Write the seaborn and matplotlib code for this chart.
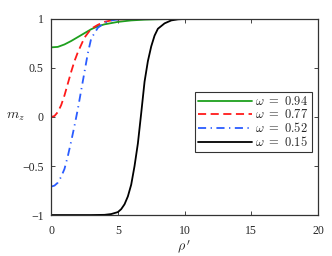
import numpy as np
import pandas as pd
import matplotlib
matplotlib.use("Agg")
import matplotlib.pyplot as plt
import seaborn as sns

# ------------------------------------------
# Data
# ------------------------------------------
labels = ["0.94", "0.77", "0.52", "0.15"]

x_green = [0, 0.5, 1, 1.5, 2, 2.5, 3, 3.5, 4, 5, 6, 7, 8, 9, 10, 20]
y_green = [0.71, 0.715, 0.74, 0.775, 0.815, 0.855, 0.895, 0.925, 0.945,
           0.97, 0.985, 0.993, 0.997, 0.999, 1.0, 1.0]

x_red = [0, 0.25, 0.5, 0.75, 1, 1.25, 1.5, 1.75, 2, 2.5, 3, 3.5, 4, 4.5, 5, 6, 20]
y_red = [0.0, 0.01, 0.05, 0.12, 0.22, 0.34, 0.46, 0.57, 0.66, 0.81, 0.9,
         0.94, 0.97, 0.985, 0.995, 1.0, 1.0]

x_blue = [0, 0.25, 0.5, 0.75, 1, 1.25, 1.5, 1.75, 2, 2.25, 2.5, 2.75, 3,
          3.5, 4, 4.5, 5, 6, 20]
y_blue = [-0.71, -0.70, -0.67, -0.61, -0.53, -0.40, -0.25, -0.09, 0.08,
          0.27, 0.46, 0.65, 0.8, 0.91, 0.96, 0.985, 0.995, 1.0, 1.0]

x_black = [0, 3, 4, 4.5, 5, 5.25, 5.5, 5.75, 6, 6.25, 6.5, 6.75, 7, 7.25,
           7.5, 7.75, 8, 8.5, 9, 9.5, 10, 20]
y_black = [-1.0, -1.0, -0.998, -0.99, -0.97, -0.94, -0.89, -0.81, -0.69,
           -0.5, -0.27, 0.04, 0.36, 0.57, 0.72, 0.83, 0.9, 0.955, 0.985,
           0.996, 1.0, 1.0]

xs = [x_green, x_red, x_blue, x_black]
ys = [y_green, y_red, y_blue, y_black]
colors = ["#1ea01e", "#ff1a1a", "#2a5cff", "black"]
styles = ["-", (0, (4.5, 2.5)), (0, (4.5, 2.5, 0.7, 2.5)), "-"]

# ------------------------------------------
# Plot
# ------------------------------------------
sns.set_style("ticks")
plt.rcParams["font.family"] = ["Liberation Serif", "DejaVu Serif"]
plt.rcParams["mathtext.fontset"] = "cm"

fig = plt.figure(figsize=(3.32, 2.56), dpi=100)
ax = fig.add_axes([0.154, 0.160, 0.804, 0.766])

for x, y, c, ls, lab in zip(xs, ys, colors, styles, labels):
    df = pd.DataFrame({"x": x, "y": y})
    sns.lineplot(data=df, x="x", y="y", ax=ax, color=c, linestyle=ls,
                 linewidth=1.3, estimator=None, sort=False,
                 label=r"$\omega\ =\ %s$" % lab)

ax.set_xlim(0, 20)
ax.set_ylim(-1, 1)
ax.set_xticks([0, 5, 10, 15, 20])
ax.set_yticks([-1, -0.5, 0, 0.5, 1])
ax.set_yticklabels(["\u22121", "\u22120.5", "0", "0.5", "1"])
ax.tick_params(direction="in", length=3, width=0.6, labelsize=8.5,
               top=True, right=True)
ax.tick_params(axis="x", pad=7)
ax.tick_params(axis="y", pad=5.5)
for s in ax.spines.values():
    s.set_linewidth(0.9)
    s.set_color("#333333")

ax.set_xlabel(r"$\rho\,'$", fontsize=10)
ax.set_ylabel(r"$m_z$", fontsize=10, rotation=0)
ax.yaxis.set_label_coords(-0.135, 0.47)
ax.xaxis.set_label_coords(0.5, -0.12)

leg = ax.legend(loc="upper right", bbox_to_anchor=(1.0, 0.66),
                fontsize=9, handlelength=4.3, handletextpad=0.3,
                labelspacing=0.0, borderpad=0.25, frameon=True,
                fancybox=False, borderaxespad=0.5)
leg.get_frame().set_edgecolor("black")
leg.get_frame().set_linewidth(0.8)

fig.savefig("out.png", dpi=100)
